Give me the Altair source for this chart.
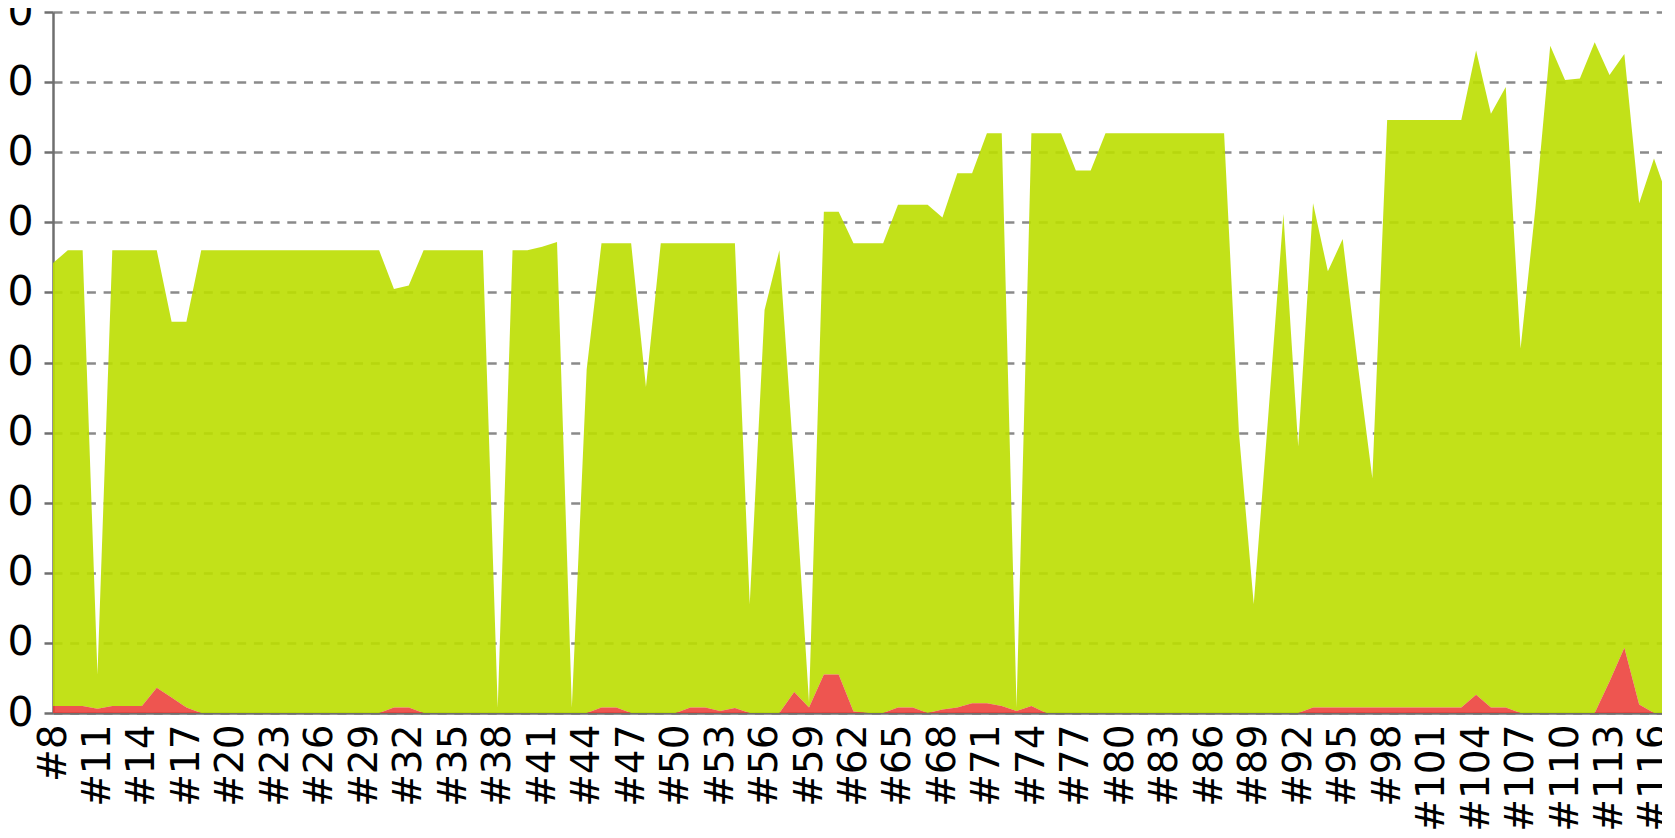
import altair as alt
import pandas as pd

# Build numbers shown on the x axis (#8 ... #117, the last one runs past the crop)
builds = list(range(8, 118))

# Total number of tests per build (top of the green area)
total_tests = [
    642, 660, 660, 55, 660, 660, 660, 660, 558, 558,      # 8-17
    660, 660, 660, 660, 660, 660, 660, 660, 660, 660,     # 18-27
    660, 660, 660, 605, 610, 660, 660, 660, 660, 660,     # 28-37
    8, 660, 660, 665, 672, 8, 490, 670, 670, 670,         # 38-47
    465, 670, 670, 670, 670, 670, 670, 155, 575, 660,     # 48-57
    350, 15, 715, 715, 670, 670, 670, 725, 725, 725,      # 58-67
    707, 770, 770, 827, 827, 8, 827, 827, 827, 774,       # 68-77
    774, 827, 827, 827, 827, 827, 827, 827, 827, 827,     # 78-87
    400, 155, 430, 712, 380, 727, 630, 676, 500, 335,     # 88-97
    846, 846, 846, 846, 846, 846, 945, 855, 893, 520,     # 98-107
    720, 952, 903, 905, 957, 910, 940, 727, 791, 730,     # 108-117
]

# Failed tests per build (red area at the bottom)
failed_tests = [
    10, 10, 10, 6, 10, 10, 10, 36, 22, 8,                 # 8-17
    0, 0, 0, 0, 0, 0, 0, 0, 0, 0,                         # 18-27
    0, 0, 0, 8, 8, 0, 0, 0, 0, 0,                         # 28-37
    0, 0, 0, 0, 0, 0, 0, 8, 8, 0,                         # 38-47
    0, 0, 0, 8, 8, 3, 7, 0, 0, 0,                         # 48-57
    30, 8, 55, 55, 2, 0, 0, 8, 8, 0,                      # 58-67
    5, 8, 14, 14, 10, 3, 10, 0, 0, 0,                     # 68-77
    0, 0, 0, 0, 0, 0, 0, 0, 0, 0,                         # 78-87
    0, 0, 0, 0, 0, 8, 8, 8, 8, 8,                         # 88-97
    8, 8, 8, 8, 8, 8, 26, 8, 8, 0,                        # 98-107
    0, 0, 0, 0, 0, 45, 93, 12, 0, 0,                      # 108-117
]

x_tick_builds = list(range(8, 117, 3))
y_tick_values = list(range(0, 1001, 100))

df = pd.DataFrame({"build": builds, "total": total_tests, "failed": failed_tests})

AXIS_GRAY = "#6f6f6f"
FONT = "DejaVu Sans"

x_enc = alt.X(
    "build:Q",
    scale=alt.Scale(domain=[8, 116.54], nice=False, zero=False),
    axis=alt.Axis(
        values=x_tick_builds,
        labelExpr="'#' + datum.value",
        labelAngle=270,
        labelFont=FONT,
        labelFontSize=39,
        labelColor="black",
        labelPadding=11,
        labelOverlap=False,
        labelFlush=False,
        ticks=False,
        grid=False,
        domainColor=AXIS_GRAY,
        domainWidth=2.5,
        title=None,
    ),
)

y_scale = alt.Scale(domain=[0, 1000], nice=False)
y_axis = alt.Axis(
    values=y_tick_values,
    format="d",
    labelFont=FONT,
    labelFontSize=41,
    labelColor="black",
    labelPadding=11,
    labelOverlap=False,
    labelFlush=False,
    tickSize=9,
    tickColor=AXIS_GRAY,
    tickWidth=2.5,
    domainColor=AXIS_GRAY,
    domainWidth=2.5,
    grid=True,
    gridColor="#8a8a8a",
    gridDash=[9, 7.7],
    gridWidth=2.5,
    title=None,
)

base = alt.Chart(df)

passed_area = base.mark_area(color="#bbde00", opacity=0.9, clip=True, interpolate="linear").encode(
    x=x_enc,
    y=alt.Y("failed:Q", scale=y_scale, axis=y_axis),
    y2="total:Q",
)

failed_area = base.mark_area(color="#ec3e38", opacity=0.88, clip=True, interpolate="linear").encode(
    x=x_enc,
    y=alt.Y("failed:Q", scale=y_scale, axis=y_axis),
)

chart = (
    alt.layer(passed_area, failed_area)
    .properties(
        width=1609,
        height=701,
        autosize=alt.AutoSizeParams(type="none"),
        padding={"left": 45, "top": 4, "right": 0, "bottom": 121},
        background="white",
    )
    .configure_view(stroke=None)
)

chart.save("out.html", embed_options={"renderer": "svg", "actions": False})
